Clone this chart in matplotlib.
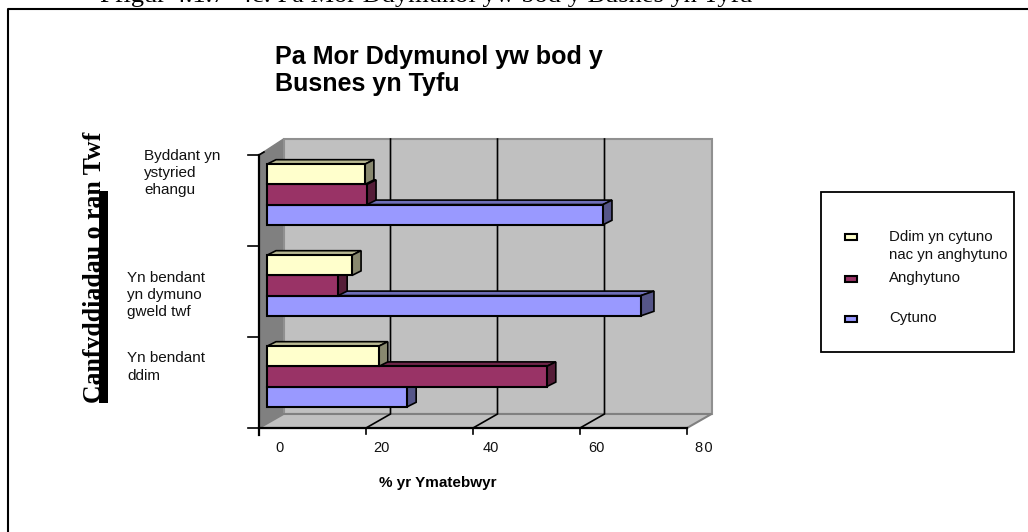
import matplotlib
matplotlib.use("Agg")
import matplotlib.pyplot as plt
from matplotlib.patches import Polygon, Rectangle
from matplotlib.lines import Line2D

W, H = 1028, 532

categories = ["Yn bendant\nddim", "Yn bendant\nyn dymuno\ngweld twf", "Byddant yn\nystyried\nehangu"]
series_names = ["Cytuno", "Anghytuno", "Ddim yn cytuno\nnac yn anghytuno"]
cytuno = [26.2, 69.9, 62.8]
anghytuno = [52.3, 13.3, 18.7]
ddim = [20.9, 15.9, 18.3]
x_ticks = [0, 20, 40, 60, 80]
x_tick_labels = ["0", "20", "40", "60", "8\u200a0"]

front = ["#9999FF", "#993366", "#FFFFCC"]
side = ["#555588", "#551D38", "#88886F"]
top = ["#6E6EB8", "#6E2549", "#B8B893"]

plt.rcParams["font.family"] = ["Liberation Sans", "DejaVu Sans"]
fig = plt.figure(figsize=(W / 100, H / 100), dpi=100)
ax = fig.add_axes([259 / W, 1 - 428 / H, (687 - 259) / W, (428 - 155) / H])
ax.set_xlim(0, 80)
ax.set_ylim(0, 3)
ax.axis("off")

PX = 80 / 428
PY = 3 / 273
dx, dy = 24.5 * PX, 14 * PY
dyt = 16 * PY

# walls
ax.add_patch(Polygon([(0, 0), (dx, dy), (dx, 3 + dyt), (0, 3)], fc="#808080", ec="#808080", lw=1, clip_on=False, zorder=1))
ax.add_patch(Polygon([(dx, dy), (80 + dx, dy), (80 + dx, 3 + dyt), (dx, 3 + dyt)], fc="#C0C0C0", ec="#909090", lw=1.5, clip_on=False, zorder=1))
ax.add_patch(Polygon([(0, 0), (80, 0), (80 + dx, dy), (dx, dy)], fc="#C0C0C0", ec="#808080", lw=1.5, clip_on=False, zorder=1))

# grid on wall and floor
for t in x_ticks[1:-1]:
    ax.plot([t, t + dx, t + dx], [0, dy, 3 + dyt], color="black", lw=1.2, clip_on=False, zorder=2)

# axes
ax.plot([0, 0], [-7 * PY, 3], color="black", lw=1.6, clip_on=False, zorder=6)
ax.plot([0, 80], [0, 0], color="black", lw=1.6, clip_on=False, zorder=6)
label_shift = [20, 15, 18, 16, 17]
for t, lab, sh in zip(x_ticks, x_tick_labels, label_shift):
    ax.plot([t, t], [0, -6 * PY], color="black", lw=1.2, clip_on=False, zorder=6)
    ax.text(t + sh * PX, -20 * PY, lab, ha="center", va="center", fontsize=10.5, color="#111111", clip_on=False)
for i in range(4):
    ax.plot([-11 * PX, 0], [i, i], color="black", lw=1.2, clip_on=False, zorder=6)
ax.plot([0, 5 * PX], [3, 3 + 3 * PY], color="black", lw=1.2, clip_on=False, zorder=6)

# bars
x0 = 8 * PX
bh = 0.222
ddx, ddy = 9 * PX, 4.5 * PY
values = [cytuno, anghytuno, ddim]
offsets = [-0.222, 0, 0.222]
for s, vals in enumerate(values):
    for i, v in enumerate(vals):
        y = i + 0.566 + offsets[s]
        x1 = x0 + v
        z = 3 + 0.1 * s + (2 - i) * 0.5
        e = 9 * PX if not (s == 0 and i == 1) else 13 * PX
        ax.add_patch(Polygon([(x0, y + bh / 2), (x1, y + bh / 2), (x1 + e, y + bh / 2 + ddy), (x0 + ddx, y + bh / 2 + ddy)],
                             fc=top[s], ec="black", lw=1.2, zorder=z, clip_on=False))
        ax.add_patch(Polygon([(x1, y - bh / 2), (x1 + e, y - bh / 2 + ddy), (x1 + e, y + bh / 2 + ddy), (x1, y + bh / 2)],
                             fc=side[s], ec="black", lw=1.2, zorder=z, clip_on=False))
        ax.barh(y, v, height=bh, left=x0, color=front[s], edgecolor="black", linewidth=1.5, zorder=z, clip_on=False)

# category labels
lab_x = [127, 127, 144]
lab_y = [367, 295, 173]
for c, lx, ly in zip(categories, lab_x, lab_y):
    fig.text(lx / W, 1 - ly / H, c, ha="left", va="center", fontsize=11, color="#111111", linespacing=1.3)

fig.text(275 / W, 1 - 70.5 / H, "Pa Mor Ddymunol yw bod y\nBusnes yn Tyfu", ha="left", va="center", fontsize=18.1, fontweight="bold", linespacing=1.2)
fig.text(438 / W, 1 - 483 / H, "% yr Ymatebwyr", ha="center", va="center", fontsize=11, fontweight="bold")

# y title
fig.patches.append(Rectangle((99 / W, 1 - 403 / H), 9 / W, 212 / H, transform=fig.transFigure, fc="black", ec="none"))
fig.text(95 / W, 1 - 267 / H, "Canfyddiadau o ran Twf", rotation=90, ha="center", va="center", fontsize=18.5, fontweight="bold",
         family=["Liberation Serif"], zorder=5)

# caption and frame
fig.text(100 / W, 1 - 2 / H, "Ffigur 4.1.7  4c: Pa Mor Ddymunol yw bod y Busnes yn Tyfu", ha="left", va="baseline", fontsize=19, family=["Liberation Serif"])
fig.add_artist(Line2D([8 / W, 8 / W, 1], [0, 1 - 9 / H, 1 - 9 / H], transform=fig.transFigure, color="black", lw=1.5))

# legend
fig.patches.append(Rectangle((821 / W, 1 - 352 / H), 193 / W, 160 / H, transform=fig.transFigure, fc="white", ec="black", lw=1.3))
leg_y = [319, 279, 237]
for name, col, ly in zip(series_names, front, leg_y):
    fig.patches.append(Rectangle((845 / W, 1 - (ly + 3) / H), 12 / W, 6 / H, transform=fig.transFigure, fc=col, ec="black", lw=1.5))
    fig.text(889 / W, 1 - (ly + (9 if "\n" in name else -1)) / H, name, ha="left", va="center", fontsize=10.8, color="#111111", linespacing=1.3)

fig.savefig("out.png", dpi=100)
